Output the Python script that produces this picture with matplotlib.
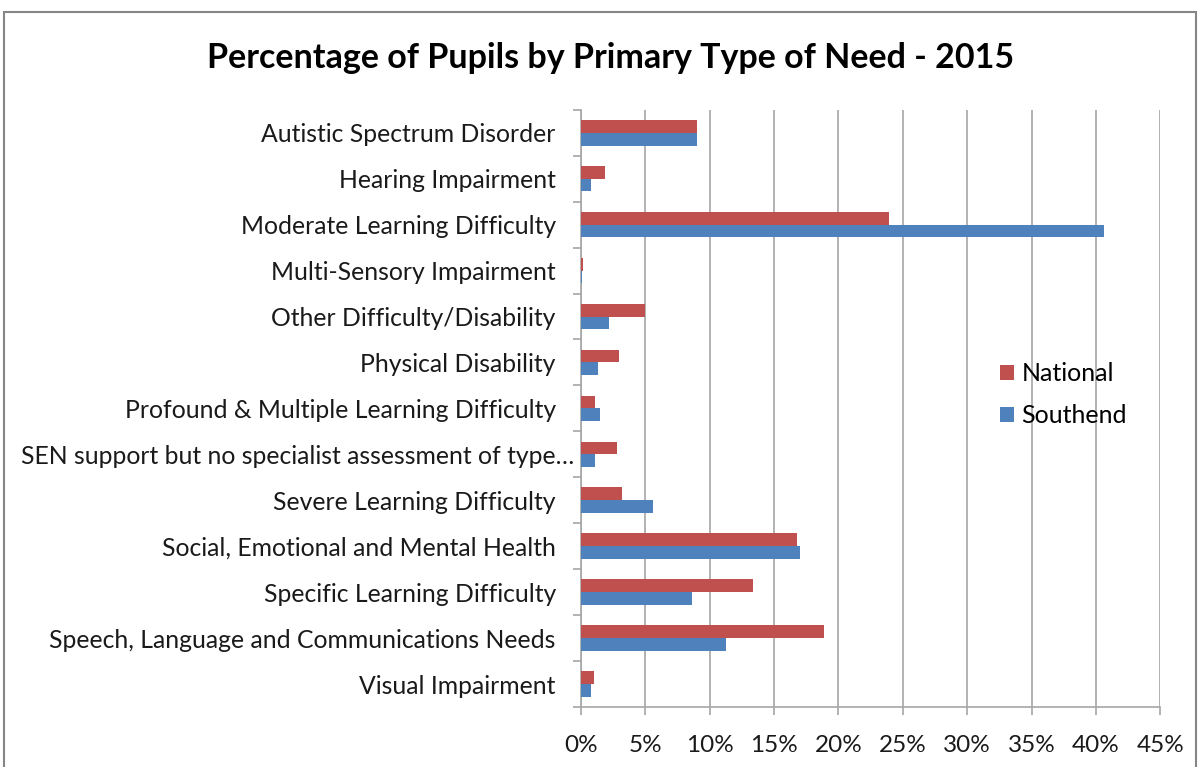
import numpy as np
import matplotlib.pyplot as plt
import matplotlib.transforms as mtransforms
from matplotlib.patches import Rectangle
from matplotlib.ticker import PercentFormatter

plt.rcParams['font.family'] = ['Lato', 'DejaVu Sans']

categories = [
    'Autistic Spectrum Disorder',
    'Hearing Impairment',
    'Moderate Learning Difficulty',
    'Multi-Sensory Impairment',
    'Other Difficulty/Disability',
    'Physical Disability',
    'Profound & Multiple Learning Difficulty',
    'SEN support but no specialist assessment of type…',
    'Severe Learning Difficulty',
    'Social, Emotional and Mental Health',
    'Specific Learning Difficulty',
    'Speech, Language and Communications Needs',
    'Visual Impairment',
]
national = [9.0, 1.9, 23.9, 0.2, 5.0, 3.0, 1.1, 2.8, 3.2, 16.75, 13.4, 18.9, 1.0]
southend = [9.0, 0.8, 40.6, 0.1, 2.2, 1.3, 1.5, 1.1, 5.6, 17.05, 8.6, 11.25, 0.8]

red = '#C0504D'
blue = '#4F81BD'

fig = plt.figure(figsize=(12, 7.67), dpi=100)
ax = fig.add_axes([0.484, 0.078, 0.483, 0.779])

y = np.arange(len(categories))
h = 0.28
ax.barh(y - h / 2, national, height=h, color=red, label='National', zorder=3)
ax.barh(y + h / 2, southend, height=h, color=blue, label='Southend', zorder=3)

ax.set_ylim(len(categories) - 0.5, -0.5)
ax.set_xlim(0, 45)
ax.set_xticks(np.arange(0, 46, 5))
ax.xaxis.set_major_formatter(PercentFormatter(decimals=0))
ax.set_yticks(y)
ax.set_yticklabels(categories)
ax.set_yticks(np.arange(-0.5, len(categories), 1), minor=True)

ax.grid(axis='x', color='#A6A6A6', linewidth=1.2, zorder=0)
for s in ['top', 'right']:
    ax.spines[s].set_visible(False)
for s in ['left', 'bottom']:
    ax.spines[s].set_color('#A6A6A6')
    ax.spines[s].set_linewidth(1.2)

ax.tick_params(axis='y', which='major', length=0, pad=18, labelsize=17.8)
ax.tick_params(axis='y', which='minor', length=6, width=1.2, color='#A6A6A6')
ax.tick_params(axis='x', length=6, width=1.2, color='#A6A6A6', labelsize=17.5, pad=14)
for t in ax.get_yticklabels() + ax.get_xticklabels():
    t.set_color('#1a1a1a')

# truncated label runs up to the axis line
sen = ax.get_yticklabels()[7]
sen.set_transform(sen.get_transform() +
                  mtransforms.ScaledTranslation(0.18, 0, fig.dpi_scale_trans))

ax.legend(loc='upper left', bbox_to_anchor=(0.685, 0.615), frameon=False,
          fontsize=18, handlelength=0.55, handleheight=0.55, handletextpad=0.3,
          labelspacing=0.75)

fig.text(0.509, 0.925, 'Percentage of Pupils by Primary Type of Need - 2015',
         ha='center', va='center', fontsize=24.5, fontweight='bold')

fig.patches.append(Rectangle((4 / 1200, -0.02), 1192 / 1200, 1.02 - 12 / 767,
                             transform=fig.transFigure, fill=False,
                             edgecolor='#868686', linewidth=1.5))

fig.savefig('out.png', dpi=100)
